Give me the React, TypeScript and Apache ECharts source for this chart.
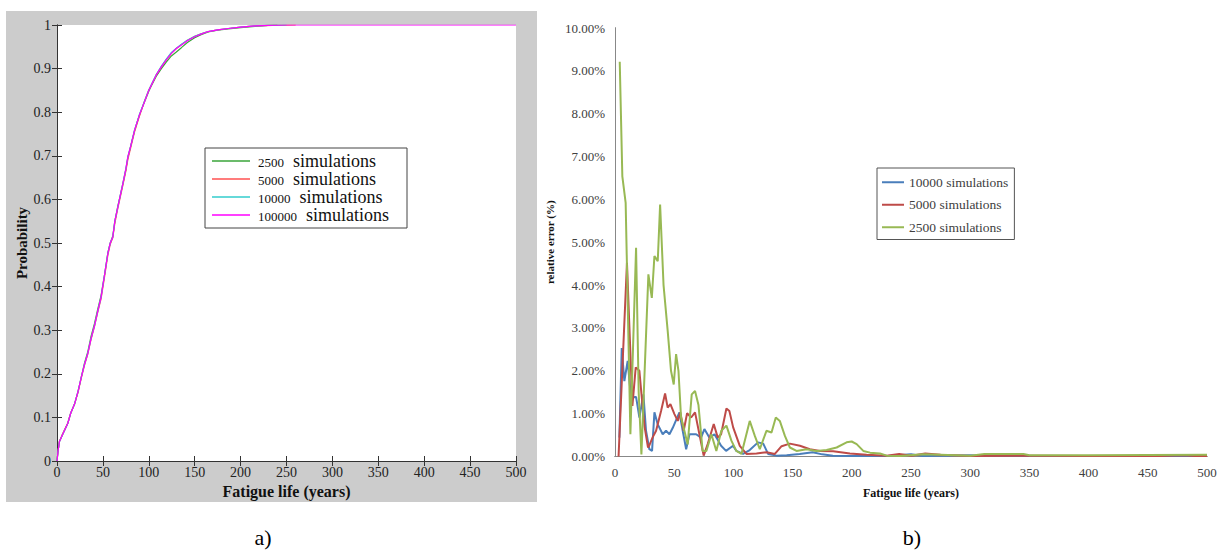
import React, { useEffect, useRef } from "react";
import * as echarts from "echarts";

// ---- Panel a) cumulative distribution (x = fatigue life, y = probability)
const cdf2500: number[][] = [
  [0, 0], [1, 0.02], [2.6, 0.044], [6, 0.06], [11.7, 0.086], [15, 0.11], [19, 0.13], [23, 0.16],
  [26.2, 0.19], [30, 0.225], [33.5, 0.25], [37, 0.285], [40.8, 0.315], [44, 0.345], [48, 0.38],
  [52, 0.43], [55.4, 0.478], [58, 0.5], [60.8, 0.516], [63, 0.55], [66.3, 0.585], [69, 0.61],
  [71.8, 0.637], [75, 0.668], [77.2, 0.696], [80, 0.72], [84.5, 0.758], [90, 0.795], [95.4, 0.824],
  [100, 0.848], [102.7, 0.86], [108, 0.882], [113.7, 0.9], [119, 0.915], [124.6, 0.929], [130, 0.938],
  [135.5, 0.948], [142, 0.96], [150, 0.971], [157, 0.978], [164.7, 0.984], [175, 0.988],
  [186.5, 0.991], [200, 0.994], [215.7, 0.997], [230, 0.999], [240, 1],
];
const cdf5000: number[][] = [
  [0, 0], [1, 0.02], [2.6, 0.045], [6, 0.062], [11.7, 0.087], [15, 0.11], [19, 0.13], [23, 0.158],
  [26.2, 0.188], [30, 0.22], [33.5, 0.245], [37, 0.278], [40.8, 0.308], [44, 0.338], [48, 0.372],
  [52, 0.425], [55.4, 0.472], [58, 0.497], [60.8, 0.512], [63, 0.545], [66.3, 0.58], [69, 0.606],
  [71.8, 0.633], [75, 0.665], [77.2, 0.692], [80, 0.716], [84.5, 0.755], [90, 0.792], [95.4, 0.826],
  [100, 0.851], [102.7, 0.862], [108, 0.885], [113.7, 0.904], [119, 0.92], [124.6, 0.935],
  [130, 0.946], [135.5, 0.955], [142, 0.965], [150, 0.974], [157, 0.98], [164.7, 0.985],
  [175, 0.989], [186.5, 0.992], [200, 0.995], [215.7, 0.998], [235, 0.999], [260, 1],
];
const cdf10000: number[][] = [
  [0, 0], [1, 0.02], [2.6, 0.044], [6, 0.06], [11.7, 0.086], [15, 0.11], [19, 0.13], [23, 0.16],
  [26.2, 0.19], [30, 0.222], [33.5, 0.247], [37, 0.28], [40.8, 0.31], [44, 0.34], [48, 0.376],
  [52, 0.43], [55.4, 0.476], [58, 0.5], [60.8, 0.514], [63, 0.55], [66.3, 0.583], [69, 0.61],
  [71.8, 0.637], [75, 0.67], [77.2, 0.698], [80, 0.72], [84.5, 0.759], [90, 0.796], [95.4, 0.826],
  [100, 0.851], [102.7, 0.863], [108, 0.886], [113.7, 0.906], [119, 0.922], [124.6, 0.937],
  [130, 0.947], [135.5, 0.956], [142, 0.965], [150, 0.974], [157, 0.98], [164.7, 0.985],
  [175, 0.989], [186.5, 0.992], [200, 0.995], [215.7, 0.998], [230, 0.999], [250, 1],
];
const cdf100000: number[][] = [
  [0, 0], [1, 0.02], [2.6, 0.044], [6, 0.06], [11.7, 0.086], [15, 0.11], [19, 0.13], [23, 0.16],
  [26.2, 0.19], [30, 0.222], [33.5, 0.246], [37, 0.28], [40.8, 0.31], [44, 0.34], [48, 0.376],
  [52, 0.43], [55.4, 0.476], [58, 0.5], [60.8, 0.514], [63, 0.55], [66.3, 0.583], [69, 0.61],
  [71.8, 0.637], [75, 0.67], [77.2, 0.698], [80, 0.72], [84.5, 0.759], [90, 0.795], [95.4, 0.824],
  [100, 0.85], [102.7, 0.862], [108, 0.885], [113.7, 0.904], [119, 0.92], [124.6, 0.935],
  [130, 0.946], [135.5, 0.954], [142, 0.964], [150, 0.973], [157, 0.979], [164.7, 0.985],
  [175, 0.989], [186.5, 0.992], [200, 0.995], [215.7, 0.998], [230, 0.999], [250, 1], [500, 1],
];
const cdfNames = ["2500", "5000", "10000", "100000"];

// ---- Panel b) relative error (%) vs fatigue life
const err10000: number[][] = [
  [3.7, 0.44], [5.7, 2.53], [7.9, 1.76], [10.7, 2.23], [13.5, 1.38], [17.8, 1.39], [20.6, 0.91],
  [24, 1.45], [26.2, 0.6], [29, 0.17], [31.3, 0.13], [33.3, 1.03], [36.1, 0.75], [40.3, 0.52],
  [43.1, 0.6], [46, 0.52], [48.8, 0.67], [54.4, 1.03], [57.2, 0.6], [60.1, 0.17], [62.9, 0.52],
  [68.5, 0.52], [72.7, 0.44], [75.5, 0.64], [79.8, 0.44], [84, 0.52], [86.5, 0.4], [89.6, 0.25],
  [93.8, 0.13], [99.7, 0.25], [102.5, 0.13], [108.2, 0.06], [113.8, 0.15], [120.8, 0.33],
  [125.2, 0.3], [129.3, 0.06], [136.4, 0.02], [145, 0.03], [156, 0.06], [167, 0.1], [175, 0.05],
  [184, 0.02], [200, 0.01], [230, 0.01], [250, 0.05], [260, 0.01], [300, 0.03], [320, 0.01],
  [400, 0.01], [500, 0.01],
];
const err5000: number[][] = [
  [3, 0], [10.1, 4.52], [14.7, 1.18], [17.5, 2.08], [20.6, 2.0], [22.3, 1.47], [25, 0.69],
  [27.9, 0.21], [29, 0.26], [31.7, 0.44], [34.7, 0.6], [38.9, 1.06], [42.3, 1.47], [44.5, 1.14],
  [46.8, 1.22], [50.2, 0.99], [53, 0.83], [55.2, 1.03], [58, 0.6], [60.9, 1.01], [64.3, 0.91],
  [67.6, 1.03], [71.3, 0.52], [74.9, 0.02], [78.3, 0.29], [83.4, 0.76], [86.8, 0.44], [89.6, 0.52],
  [94.1, 1.12], [96.6, 1.06], [99.8, 0.68], [105.4, 0.25], [111, 0.06], [119.5, 0.07], [128, 0.1],
  [135, 0.06], [140.7, 0.24], [147.7, 0.3], [156.2, 0.25], [164.6, 0.17], [173.1, 0.13],
  [184.3, 0.12], [198.4, 0.07], [212.5, 0.04], [229.5, 0.02], [240, 0.06], [250, 0.02],
  [262, 0.07], [275, 0.04], [300, 0.01], [340, 0.02], [400, 0.01], [460, 0.01], [480, 0.03],
  [490, 0.01], [500, 0.01],
];
const err2500: number[][] = [
  [4, 9.21], [6.2, 6.54], [9, 5.92], [13, 0.52], [17.8, 4.87], [20, 1.5], [22.3, 0.05],
  [28.2, 4.25], [31.1, 3.7], [33.3, 4.68], [36.1, 4.56], [38.1, 5.88], [41, 4.0], [44.5, 2.93],
  [47.3, 2.0], [49.6, 1.68], [51.6, 2.39], [53.6, 2.0], [55.8, 0.91], [58.6, 0.6], [61.4, 0.28],
  [64.8, 1.45], [67.6, 1.53], [70.5, 1.2], [74, 0.13], [77.2, 0.13], [81.4, 0.52], [85.6, 0.13],
  [89.8, 0.6], [94.1, 0.72], [98.3, 0.37], [102.5, 0.13], [106.8, 0.06], [113.8, 0.83],
  [118.1, 0.48], [122.3, 0.17], [127.9, 0.6], [132.2, 0.56], [135.8, 0.91], [139.2, 0.83],
  [143.5, 0.48], [147.7, 0.21], [153.3, 0.13], [161.8, 0.17], [170.2, 0.13], [178.7, 0.15],
  [187.2, 0.21], [195.6, 0.33], [199.9, 0.35], [204.1, 0.29], [209.7, 0.13], [215.4, 0.09],
  [223.8, 0.07], [229.5, 0.02], [240.7, 0.01], [260, 0.05], [275, 0.04], [300, 0.02], [312, 0.06],
  [345, 0.06], [350, 0.03], [400, 0.03], [500, 0.04],
];
const errNames = ["10000 simulations", "5000 simulations", "2500 simulations"];

const SERIF = '"Liberation Serif", "Times New Roman", serif';

export default function App() {
  const ref = useRef<HTMLDivElement>(null);
  useEffect(() => {
    if (!ref.current) return;
    const chart = echarts.init(ref.current, null, { renderer: "svg" });
    const cdfColors = ["#3aa53a", "#ff5050", "#33cccc", "#ff00ff"];
    const cdfData = [cdf2500, cdf5000, cdf10000, cdf100000];
    const errColors = ["#4a7ebb", "#be4b48", "#98b954"];
    const errData = [err10000, err5000, err2500];

    const option: any = {
      animation: false,
      backgroundColor: "#ffffff",
      textStyle: { fontFamily: SERIF },
      graphic: [
        { type: "rect", z: -10, shape: { x: 6, y: 11, width: 531, height: 491 }, style: { fill: "#cccccc" } },
        { type: "text", x: 263, y: 537, style: { text: "a)", font: `22px ${SERIF}`, fill: "#000", align: "center", verticalAlign: "middle" } },
        { type: "text", x: 912, y: 537, style: { text: "b)", font: `22px ${SERIF}`, fill: "#000", align: "center", verticalAlign: "middle" } },
      ],
      grid: [
        { left: 57, top: 25, width: 459, height: 436, show: true, backgroundColor: "#ffffff", borderWidth: 0 },
        { left: 615, top: 28, width: 592, height: 428.5, show: false },
      ],
      legend: [
        {
          data: cdfNames,
          orient: "vertical",
          left: 205,
          top: 148,
          itemGap: 0,
          icon: "rect",
          itemWidth: 38,
          itemHeight: 1.5,
          padding: [4, 18, 4, 7],
          backgroundColor: "#ffffff",
          borderColor: "#444",
          borderWidth: 1,
          borderRadius: 0,
          formatter: (n: string) => `{a|${n}}{b|simulations}`,
          textStyle: {
            lineHeight: 18,
            rich: {
              a: { fontFamily: SERIF, fontSize: 13, color: "#111", padding: [2, 9, 0, 3], lineHeight: 18 },
              b: { fontFamily: SERIF, fontSize: 18, color: "#111", lineHeight: 18 },
            },
          },
        },
        {
          data: errNames,
          orient: "vertical",
          left: 877,
          top: 168,
          itemGap: 0,
          icon: "rect",
          itemWidth: 22,
          itemHeight: 2,
          padding: [3, 6, 1, 5],
          backgroundColor: "#ffffff",
          borderColor: "#555",
          borderWidth: 1,
          borderRadius: 0,
          textStyle: { fontFamily: SERIF, fontSize: 13.5, color: "#404040", lineHeight: 22.5 },
        },
      ],
      xAxis: [
        {
          gridIndex: 0, type: "value", min: 0, max: 500, interval: 50, position: "bottom",
          axisLine: { lineStyle: { color: "#333", width: 1 } },
          axisTick: { inside: true, length: 5, lineStyle: { color: "#333" } },
          axisLabel: { fontFamily: SERIF, fontSize: 14, color: "#222", margin: 4 },
          splitLine: { show: false },
          name: "Fatigue life (years)", nameLocation: "middle", nameGap: 17,
          nameTextStyle: { fontFamily: SERIF, fontWeight: "bold", fontSize: 16, color: "#111" },
        },
        {
          gridIndex: 0, type: "value", min: 0, max: 500, interval: 50, position: "top",
          axisLine: { lineStyle: { color: "#333", width: 1 } },
          axisTick: { inside: true, length: 5, lineStyle: { color: "#333" } },
          axisLabel: { show: false }, splitLine: { show: false },
        },
        {
          gridIndex: 1, type: "value", min: 0, max: 500, interval: 50, position: "bottom",
          axisLine: { lineStyle: { color: "#555", width: 1 } },
          axisTick: { show: false },
          axisLabel: { fontFamily: SERIF, fontSize: 13, color: "#404040", margin: 9 },
          splitLine: { show: false },
          name: "Fatigue life (years)", nameLocation: "middle", nameGap: 30,
          nameTextStyle: { fontFamily: SERIF, fontWeight: "bold", fontSize: 12, color: "#111" },
        },
        {
          gridIndex: 1, type: "value", min: 0, max: 500, interval: 50, position: "top",
          axisLine: { lineStyle: { color: "#888", width: 1 } },
          axisTick: { show: false }, axisLabel: { show: false }, splitLine: { show: false },
        },
      ],
      yAxis: [
        {
          gridIndex: 0, type: "value", min: 0, max: 1, interval: 0.1, position: "left",
          axisLine: { show: true, lineStyle: { color: "#333", width: 1 } },
          axisTick: { show: true, inside: true, length: 5, lineStyle: { color: "#333" } },
          axisLabel: { fontFamily: SERIF, fontSize: 14, color: "#222", margin: 6 },
          splitLine: { show: false },
          name: "Probability", nameLocation: "middle", nameGap: 28,
          nameTextStyle: { fontFamily: SERIF, fontWeight: "bold", fontSize: 15, color: "#111" },
        },
        {
          gridIndex: 0, type: "value", min: 0, max: 1, interval: 0.1, position: "right",
          axisLine: { show: true, lineStyle: { color: "#333", width: 1 } },
          axisTick: { show: true, inside: true, length: 5, lineStyle: { color: "#333" } },
          axisLabel: { show: false }, splitLine: { show: false },
        },
        {
          gridIndex: 1, type: "value", min: 0, max: 10, interval: 1, position: "left",
          axisLine: { show: true, lineStyle: { color: "#555", width: 1 } },
          axisTick: { show: false },
          axisLabel: { fontFamily: SERIF, fontSize: 13, color: "#404040", margin: 10, formatter: (v: number) => `${v.toFixed(2)}%` },
          splitLine: { show: false },
          name: "relative error (%)", nameLocation: "middle", nameGap: 60,
          nameTextStyle: { fontFamily: SERIF, fontWeight: "bold", fontSize: 11, color: "#111" },
        },
        {
          gridIndex: 1, type: "value", min: 0, max: 10, interval: 1, position: "right",
          axisLine: { show: true, lineStyle: { color: "#888", width: 1 } },
          axisTick: { show: false }, axisLabel: { show: false }, splitLine: { show: false },
        },
      ],
      series: [
        ...cdfNames.map((n, i) => ({
          name: n, type: "line", xAxisIndex: 0, yAxisIndex: 0, data: cdfData[i],
          symbol: "none", lineStyle: { color: cdfColors[i], width: 1.2 }, itemStyle: { color: cdfColors[i] },
        })),
        ...errNames.map((n, i) => ({
          name: n, type: "line", xAxisIndex: 2, yAxisIndex: 2, data: errData[i],
          symbol: "none", lineStyle: { color: errColors[i], width: 2 }, itemStyle: { color: errColors[i] },
        })),
      ],
    };
    chart.setOption(option);
    return () => chart.dispose();
  }, []);
  return (
    <div
      ref={ref}
      style={{ position: "absolute", left: 0, top: 0, width: 1229, height: 558, background: "#fff" }}
    />
  );
}
